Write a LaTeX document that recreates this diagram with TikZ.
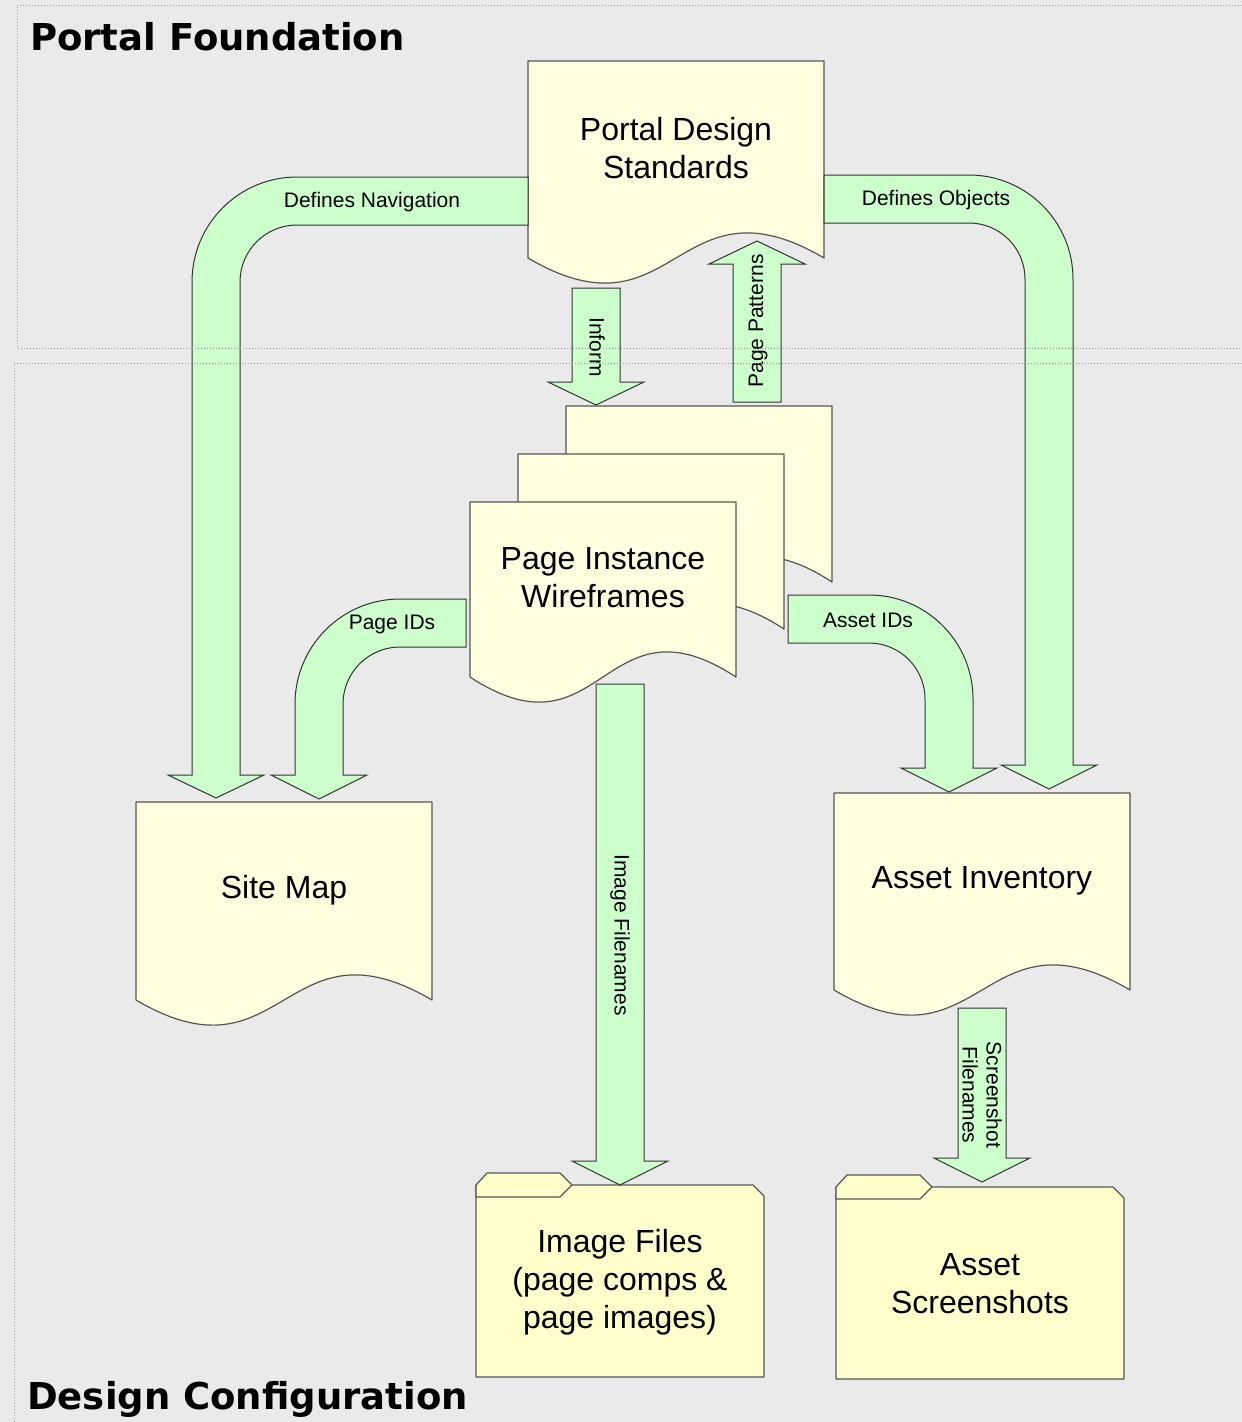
\documentclass[tikz,border=0pt]{standalone}
\usepackage{fontspec}
\setmainfont{Liberation Sans}
\newfontfamily\titlefont{DejaVu Sans}
\begin{document}
\begin{tikzpicture}[x=1pt,y=-1pt,
  docfill/.style={fill=docyellow,draw=docline,line width=1.2pt,line join=round},
  folderfill/.style={fill=folderyellow,draw=docline,line width=1.2pt,line join=round},
  blockarrow/.style={fill=arrowgreen,draw=arrowline,line width=1pt,line join=miter},
  lanebox/.style={draw=laneline,line width=1pt,dash pattern=on 1pt off 2pt},
  bigtext/.style={align=center,font=\fontsize{32}{38}\selectfont,inner sep=0pt},
  lbl/.style={align=center,font=\fontsize{21}{24}\selectfont,inner sep=0pt},
  title/.style={anchor=base west,inner sep=0pt,font=\titlefont\bfseries\fontsize{37}{44}\selectfont}]
\definecolor{bggray}{HTML}{EAEAEA}
\definecolor{docyellow}{HTML}{FFFFE0}
\definecolor{folderyellow}{HTML}{FFFFCC}
\definecolor{docline}{HTML}{555555}
\definecolor{arrowgreen}{HTML}{CCFFCC}
\definecolor{arrowline}{HTML}{333333}
\definecolor{laneline}{HTML}{999999}

% canvas
\fill[bggray] (0,0) rectangle (1242,1422);
\useasboundingbox (0,0) rectangle (1242,1422);

% document shape with wavy bottom: x, y, width, side height
\newcommand\docshape[4]{%
  \draw[docfill] (#1,#2) -- ({#1+#3},#2) -- ({#1+#3},{#2+#4})
    .. controls ({#1+#3/2},{#2+#4-87}) and ({#1+#3/2},{#2+#4+87}) .. (#1,{#2+#4}) -- cycle;}

% folder shape: left, body top, right, bottom, tab right end
\newcommand\foldershape[5]{%
  \draw[folderfill] (#1,#4) -- (#1,#2) -- ({#3-11},#2) -- (#3,{#2+11}) -- (#3,#4) -- cycle;
  \draw[folderfill] (#1,{#2+12}) -- (#1,#2) -- ({#1+11},{#2-12}) -- ({#5-12},{#2-12})
    -- (#5,#2) -- ({#5-12},{#2+12}) -- cycle;}

% ---- documents ----
\docshape{528}{61}{296}{197}
\node[bigtext] (pds) at (676,148) {Portal Design\\Standards};

\docshape{566}{406}{266}{176}
\docshape{518}{454}{266}{175}
\docshape{470}{502}{266}{175}
\node[bigtext] (wf) at (603,578) {Page Instance\\Wireframes};

\docshape{136}{802}{296}{198}
\node[bigtext] (sitemap) at (284,890) {Site Map};

\docshape{834}{793}{296}{197}
\node[bigtext] (assetinv) at (982,881) {Asset Inventory};

% ---- folders ----
\foldershape{476}{1185}{764}{1377}{572}
\node[bigtext] (imgfiles) at (620,1282) {Image Files\\(page comps \&\\page images)};

\foldershape{836}{1187}{1124}{1379}{932}
\node[bigtext] (assetshots) at (980,1284) {Asset\\Screenshots};

% ---- block arrows ----
% Defines Navigation
\draw[blockarrow] (528,177) -- (297,177) .. controls (239,177) and (192,224) .. (192,282)
  -- (192,775) -- (168,775) -- (216,798) -- (264,775) -- (240,775) -- (240,282)
  .. controls (240,250.5) and (265.5,225) .. (297,225) -- (528,225) -- cycle;
\node[lbl] (lnav) at (372,202) {Defines Navigation};

% Defines Objects
\draw[blockarrow] (824,175) -- (969,175) .. controls (1026.4,175) and (1073,221.6) .. (1073,279)
  -- (1073,765) -- (1097,765) -- (1049,789) -- (1001,765) -- (1025,765) -- (1025,279)
  .. controls (1025,248.1) and (999.9,223) .. (969,223) -- (824,223) -- cycle;
\node[lbl] (lobj) at (936,200) {Defines Objects};

% Inform
\draw[blockarrow] (572,288) -- (620,288) -- (620,382) -- (644,382) -- (596,405)
  -- (548,382) -- (572,382) -- cycle;
\node[lbl,rotate=-90] (linform) at (597,347) {Inform};

% Page Patterns
\draw[blockarrow] (733,402) -- (733,264) -- (709,264) -- (757,241) -- (805,264)
  -- (781,264) -- (781,402) -- cycle;
\node[lbl,rotate=90] (lpat) at (758,321) {Page Patterns};

% Page IDs
\draw[blockarrow] (466,599) -- (400,599) .. controls (342,599) and (295,646) .. (295,704)
  -- (295,775) -- (271,775) -- (319,799) -- (367,775) -- (343,775) -- (343,704)
  .. controls (343,672.5) and (368.5,647) .. (400,647) -- (466,647) -- cycle;
\node[lbl] (lpid) at (392,624) {Page IDs};

% Asset IDs
\draw[blockarrow] (788,595) -- (869,595) .. controls (926.4,595) and (973,641.6) .. (973,699)
  -- (973,768) -- (997,768) -- (949,792) -- (901,768) -- (925,768) -- (925,699)
  .. controls (925,668.1) and (899.9,643) .. (869,643) -- (788,643) -- cycle;
\node[lbl] (laid) at (868,620) {Asset IDs};

% Image Filenames
\draw[blockarrow] (596,684) -- (644,684) -- (644,1161) -- (668,1161) -- (620,1185)
  -- (572,1161) -- (596,1161) -- cycle;
\node[lbl,rotate=-90] (limg) at (620,935) {Image Filenames};

% Screenshot Filenames
\draw[blockarrow] (958,1008) -- (1006,1008) -- (1006,1158) -- (1030,1158) -- (982,1182)
  -- (934,1158) -- (958,1158) -- cycle;
\node[lbl,rotate=-90] (lshot) at (982,1095) {Screenshot\\Filenames};

% ---- swim lanes ----
\draw[lanebox] (1242,5) -- (17,5) -- (17,348) -- (1242,348);
\draw[lanebox] (1242,363) -- (14,363) -- (14,1422);
\node[title] (lanetop) at (30,50) {Portal Foundation};
\node[title] (lanebot) at (27,1409) {Design Configuration};
\end{tikzpicture}
\end{document}
